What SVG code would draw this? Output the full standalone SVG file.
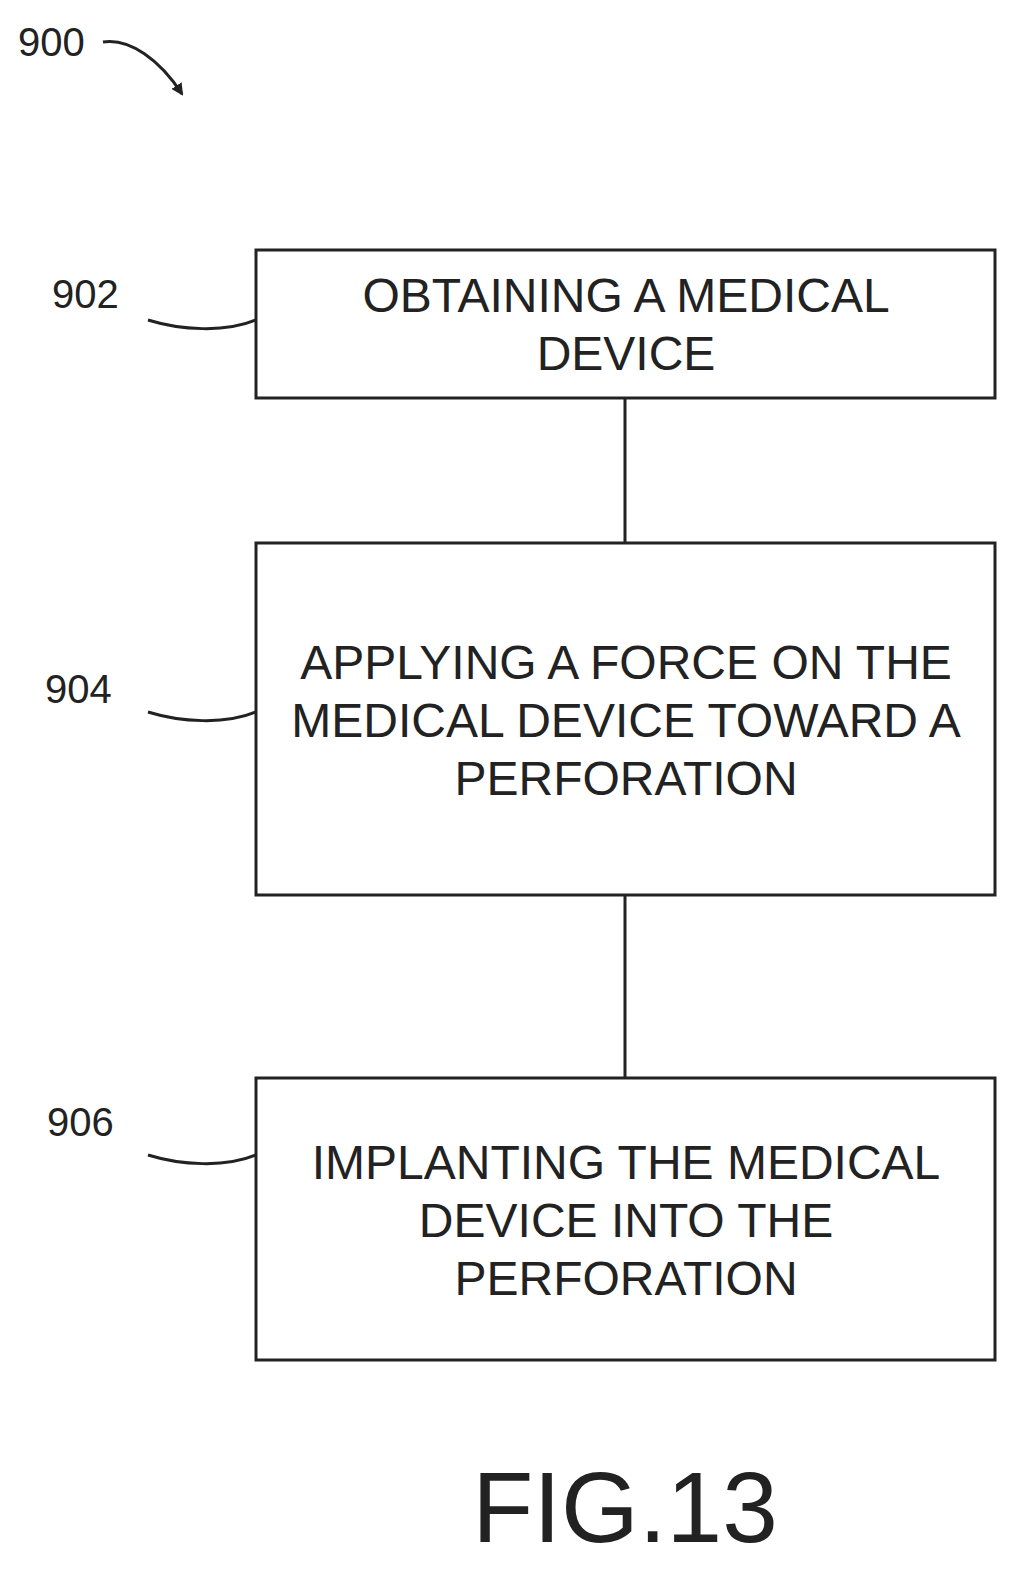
<svg xmlns="http://www.w3.org/2000/svg" width="1034" height="1596" viewBox="0 0 1034 1596">
<style>
.box{fill:#fff;stroke:#222;stroke-width:3}
.t{font-family:"Liberation Sans",Arial,sans-serif;font-size:48px;fill:#222;text-anchor:middle}
.l{font-family:"Liberation Sans",Arial,sans-serif;font-size:40px;fill:#222}
.c{fill:none;stroke:#222;stroke-width:3}
</style>
<defs><marker id="ah" markerWidth="12" markerHeight="12" refX="10" refY="6" orient="auto" markerUnits="userSpaceOnUse"><path d="M0,0 L12,6 L0,12 Z" fill="#222"/></marker></defs>
<rect width="1034" height="1596" fill="#fff"/>
<g id="label900"><text class="l" x="18" y="56">900</text>
<path class="c" d="M103,42 C130,38 160,60 182,94" marker-end="url(#ah)"/></g>
<g id="connectors">
<line class="c" x1="625" y1="398" x2="625" y2="543"/>
<line class="c" x1="625" y1="895" x2="625" y2="1078"/>
<path class="c" d="M148,320 C180,330 225,333 256,320"/>
<path class="c" d="M148,712 C180,722 225,725 256,712"/>
<path class="c" d="M148,1155 C180,1165 225,1168 256,1155"/>
</g>
<g id="n902"><rect class="box" x="256" y="250" width="739" height="148"/>
<text class="t" x="626" y="312">OBTAINING A MEDICAL</text><text class="t" x="626" y="370">DEVICE</text>
<text class="l" x="52" y="308">902</text></g>
<g id="n904"><rect class="box" x="256" y="543" width="739" height="352"/>
<text class="t" x="626" y="679">APPLYING A FORCE ON THE</text><text class="t" x="626" y="737">MEDICAL DEVICE TOWARD A</text><text class="t" x="626" y="795">PERFORATION</text>
<text class="l" x="45" y="703">904</text></g>
<g id="n906"><rect class="box" x="256" y="1078" width="739" height="282"/>
<text class="t" x="626" y="1179">IMPLANTING THE MEDICAL</text><text class="t" x="626" y="1237">DEVICE INTO THE</text><text class="t" x="626" y="1295">PERFORATION</text>
<text class="l" x="47" y="1136">906</text></g>
<text x="625" y="1542" font-family="'Liberation Sans',Arial,sans-serif" font-size="100" fill="#222" text-anchor="middle">FIG.13</text>
</svg>
